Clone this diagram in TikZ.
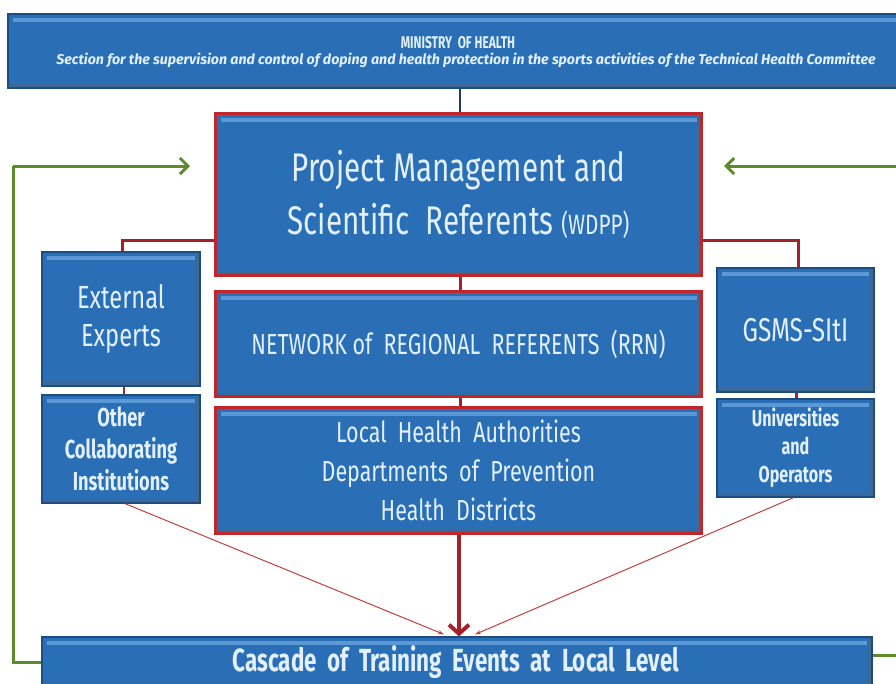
\documentclass[tikz,border=0pt]{standalone}
\usepackage{fontspec}
\usetikzlibrary{arrows.meta}
\newfontfamily\agency[FakeStretch=0.74]{Fira Sans}
\newfontfamily\agencyb[FakeStretch=0.7]{Fira Sans}
\newfontfamily\widesans{Fira Sans}

\definecolor{boxblue}{HTML}{2A6FB5}
\definecolor{boxedge}{HTML}{1B4C82}
\definecolor{boxhi}{HTML}{5A98D6}
\definecolor{boxtext}{HTML}{E2F0FF}
\definecolor{framered}{HTML}{C0262C}
\definecolor{linkred}{HTML}{A3222A}
\definecolor{thinred}{HTML}{C2413F}
\definecolor{navyline}{HTML}{1E3E6A}
\definecolor{loopgreen}{HTML}{5B8C2C}

\tikzset{
  bluebox/.style={rectangle, fill=boxblue, draw=boxedge, line width=1.2pt,
    text=boxtext, align=center, inner sep=0pt,
    path picture={
      \fill[boxhi] ([xshift=5pt,yshift=-4pt]path picture bounding box.north west)
        rectangle ([xshift=-5pt,yshift=-8pt]path picture bounding box.north east);
      \fill[boxedge!85] ([xshift=-4pt]path picture bounding box.north east)
        rectangle (path picture bounding box.south east);
      \fill[boxedge!85] ([yshift=4pt]path picture bounding box.south west)
        rectangle (path picture bounding box.south east);
    }},
  redbox/.style={bluebox, draw=framered, line width=3.2pt},
  redlink/.style={draw=linkred, line width=3pt},
  navylink/.style={draw=navyline, line width=2.5pt},
  mainarrow/.style={draw=linkred, line width=4pt, -{Straight Barb[length=9pt,width=20pt]}},
  thinarrow/.style={draw=thinred, line width=1pt, -{Stealth[length=6pt,width=4pt]}},
  greenarrow/.style={draw=loopgreen, line width=3pt},
  greentip/.style={greenarrow, -{Straight Barb[length=8pt,width=16pt]}},
}

\begin{document}
\begin{tikzpicture}[x=1pt,y=-1pt]
\useasboundingbox[fill=white] (0,0) rectangle (896,683);

% ministry banner
\node[bluebox, minimum width=900pt, minimum height=74pt] (ministry) at (458,51) {};
\node[text=boxtext, font=\agencyb\bfseries\fontsize{17}{17}\selectfont] (ministrytitle) at (458,43) {MINISTRY\ \ OF HEALTH};
\node[text=boxtext, font=\widesans\bfseries\itshape\fontsize{14.2}{14.2}\selectfont] (ministrysub) at (466,60)
  {Section\ for\ the\ supervision\ and\ control\ of\ doping\ and\ health\ protection\ in\ the\ sports\ activities\ of\ the\ Technical\ Health\ Committee};

% central column
\node[redbox, minimum width=486pt, minimum height=162pt,
  font=\agency\fontsize{40}{53}\selectfont] (main) at (458.5,194.5)
  {Project Management and\\Scientific\ \ Referents {\fontsize{28}{28}\selectfont(WDPP)}};
\node[redbox, minimum width=486pt, minimum height=105pt,
  font=\agency\fontsize{29}{39}\selectfont] (network) at (458.5,344)
  {NETWORK of\ \ REGIONAL\ \ REFERENTS\ \ (RRN)};
\node[redbox, minimum width=486pt, minimum height=126pt,
  font=\agency\fontsize{29}{39}\selectfont] (local) at (458.5,470.5)
  {Local\ \ Health\ \ Authorities\\Departments\ \ of\ \ Prevention\\Health\ \ Districts};

% side columns
\node[bluebox, minimum width=158pt, minimum height=134pt,
  font=\agency\fontsize{32}{38}\selectfont] (external) at (121,319)
  {External\\Experts};
\node[bluebox, minimum width=158pt, minimum height=108pt,
  font=\agencyb\bfseries\fontsize{26}{32}\selectfont] (other) at (121,449)
  {Other\\Collaborating\\Institutions};
\node[bluebox, minimum width=157pt, minimum height=124pt,
  font=\agency\fontsize{33}{38}\selectfont] (gsms) at (795.5,330)
  {GSMS-SItI};
\node[bluebox, minimum width=157pt, minimum height=98pt,
  font=\agencyb\bfseries\fontsize{23}{28}\selectfont] (univ) at (795.5,448)
  {Universities\\and\\Operators};

% bottom bar
\node[bluebox, minimum width=830pt, minimum height=50pt] (cascade) at (457,662) {};
\node[text=boxtext, font=\agencyb\bfseries\fontsize{32}{32}\selectfont] (cascadetext) at (456,662)
  {Cascade\ \ of\ \ Training\ \ Events\ \ at\ \ Local\ \ Level};

% hierarchy links
\draw[navylink] (ministry.south -| 460,0) -- (main.north -| 460,0);
\draw[redlink] (main.south -| 460,0) -- (network.north -| 460,0);
\draw[redlink] (network.south -| 460,0) -- (local.north -| 460,0);
\draw[redlink] ([yshift=-45.5pt]main.west) -| ([xshift=1pt]external.north);
\draw[redlink] ([yshift=-45.5pt]main.east) -| ([xshift=2.5pt]gsms.north);
\draw[linkred, line width=2.5pt] ([xshift=3pt]external.south) -- ([xshift=3pt]other.north);
\draw[linkred, line width=2.5pt] ([xshift=1pt]gsms.south) -- ([xshift=1pt]univ.north);

% flows into the training cascade
\draw[mainarrow] (local.south -| 459,0) -- (cascade.north -| 459,0);
\draw[thinarrow] ([xshift=4pt]other.south) -- ([xshift=-13pt,yshift=2pt]cascade.north);
\draw[thinarrow] ([xshift=-2pt]univ.south) -- ([xshift=18pt,yshift=2pt]cascade.north);

% feedback loops
\coordinate (lefttip) at (190,166);
\coordinate (leftcorner) at (13,166);
\coordinate (rightstart) at (900,166);
\coordinate (righttip) at (724,166);
\coordinate (rightend) at (900,655);
\draw[greenarrow] (cascade.west) -| (leftcorner);
\draw[greentip] (leftcorner) -- (lefttip);
\draw[greentip] (rightstart) -- (righttip);
\draw[greenarrow] ([yshift=7pt]cascade.east) -- (rightend);
\end{tikzpicture}
\end{document}
